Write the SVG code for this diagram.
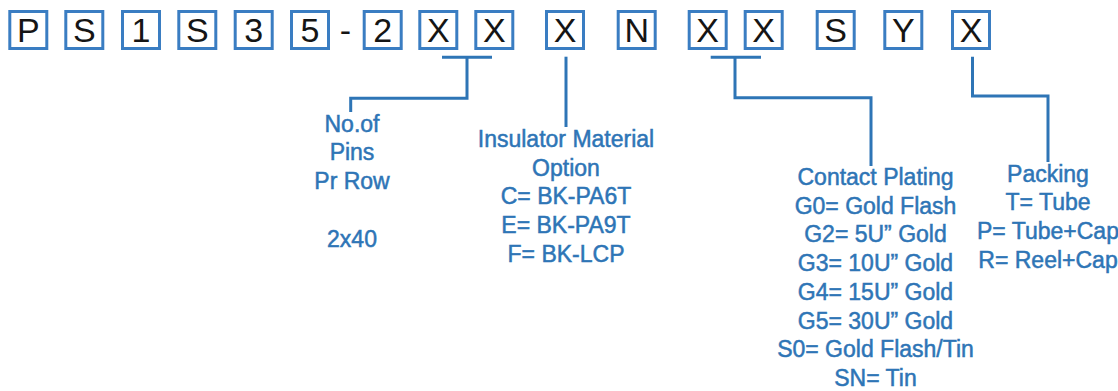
<svg xmlns="http://www.w3.org/2000/svg" width="1118" height="391" viewBox="0 0 1118 391">
<style>
.box rect{fill:#fff;stroke:#3A7DC2;stroke-width:3}
.box text{font-family:"Liberation Sans",Arial,sans-serif;font-size:34px;fill:#151515;text-anchor:middle}
.dash{font-family:"Liberation Sans",Arial,sans-serif;font-size:34px;fill:#151515;text-anchor:middle}
.lbl text{font-family:"Liberation Sans",Arial,sans-serif;font-size:23px;fill:#2E75B6;stroke:#2E75B6;stroke-width:0.5;text-anchor:middle}
.conn path{fill:none;stroke:#2E75B6;stroke-width:3}
</style>
<rect width="1118" height="391" fill="#fff"/>
<g id="code">
<g id="c1" class="box"><rect x="9.8" y="11.5" width="37" height="37"/><text x="28.3" y="41.7">P</text></g>
<g id="c2" class="box"><rect x="65.8" y="11.5" width="37" height="37"/><text x="84.3" y="41.7">S</text></g>
<g id="c3" class="box"><rect x="122.5" y="11.5" width="37" height="37"/><text x="141" y="41.7">1</text></g>
<g id="c4" class="box"><rect x="178.8" y="11.5" width="37" height="37"/><text x="197.3" y="41.7">S</text></g>
<g id="c5" class="box"><rect x="235.2" y="11.5" width="37" height="37"/><text x="253.7" y="41.7">3</text></g>
<g id="c6" class="box"><rect x="291.5" y="11.5" width="37" height="37"/><text x="310" y="41.7">5</text></g>
<text class="dash" x="345.5" y="41.7">-</text>
<g id="c7" class="box"><rect x="364.2" y="11.5" width="37" height="37"/><text x="382.7" y="41.7">2</text></g>
<g id="c8" class="box"><rect x="419.8" y="11.5" width="37" height="37"/><text x="438.3" y="41.7">X</text></g>
<g id="c9" class="box"><rect x="475.8" y="11.5" width="37" height="37"/><text x="494.3" y="41.7">X</text></g>
<g id="c10" class="box"><rect x="546.5" y="11.5" width="37" height="37"/><text x="565" y="41.7">X</text></g>
<g id="c11" class="box"><rect x="618.2" y="11.5" width="37" height="37"/><text x="636.7" y="41.7">N</text></g>
<g id="c12" class="box"><rect x="689.2" y="11.5" width="37" height="37"/><text x="707.7" y="41.7">X</text></g>
<g id="c13" class="box"><rect x="745.2" y="11.5" width="37" height="37"/><text x="763.7" y="41.7">X</text></g>
<g id="c14" class="box"><rect x="817.2" y="11.5" width="37" height="37"/><text x="835.7" y="41.7">S</text></g>
<g id="c15" class="box"><rect x="884.8" y="11.5" width="37" height="37"/><text x="903.3" y="41.7">Y</text></g>
<g id="c16" class="box"><rect x="952.5" y="11.5" width="37" height="37"/><text x="971" y="41.7">X</text></g>
</g>
<g id="connectors" class="conn">
<path d="M442 57.3H492M467 57.3V98.3H350.7V112"/>
<path d="M566 56.7V127"/>
<path d="M710.7 57.3H761M735 57.3V97.7H871V166"/>
<path d="M972.5 56.7V96H1048V162"/>
</g>
<g id="pins" class="lbl">
<text x="352" y="131.7">No.of</text>
<text x="352" y="160.4">Pins</text>
<text x="352" y="189.1">Pr Row</text>
<text x="352" y="246.5">2x40</text>
</g>
<g id="insulator" class="lbl">
<text x="566" y="147">Insulator Material</text>
<text x="566" y="175.7">Option</text>
<text x="566" y="204.4">C= BK-PA6T</text>
<text x="566" y="233.1">E= BK-PA9T</text>
<text x="566" y="261.8">F= BK-LCP</text>
</g>
<g id="plating" class="lbl">
<text x="875.5" y="185">Contact Plating</text>
<text x="875.5" y="213.7">G0= Gold Flash</text>
<text x="875.5" y="242.4">G2= 5U” Gold</text>
<text x="875.5" y="271.1">G3= 10U” Gold</text>
<text x="875.5" y="299.8">G4= 15U” Gold</text>
<text x="875.5" y="328.5">G5= 30U” Gold</text>
<text x="875.5" y="357.2">S0= Gold Flash/Tin</text>
<text x="875.5" y="385.9">SN= Tin</text>
</g>
<g id="packing" class="lbl">
<text x="1048" y="181.7">Packing</text>
<text x="1048" y="210.4">T= Tube</text>
<text x="1048" y="239.1">P= Tube+Cap</text>
<text x="1048" y="267.8">R= Reel+Cap</text>
</g>
</svg>
